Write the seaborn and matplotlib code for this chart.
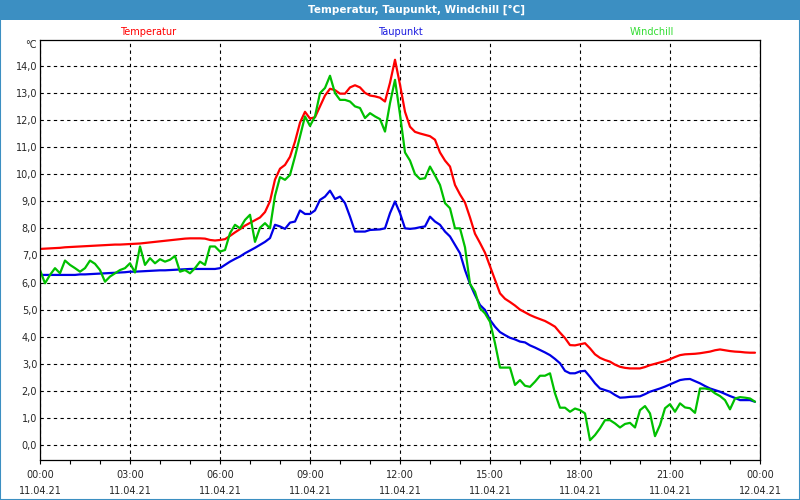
import pandas as pd
import seaborn as sns
import matplotlib.pyplot as plt
import matplotlib.dates as mdates
from matplotlib.patches import Rectangle

# 10-minute readings, 11.04.21 00:00 .. 23:50
times = pd.date_range("2021-04-11 00:00", periods=144, freq="10min")

temperatur = [
    7.24, 7.25, 7.26, 7.27, 7.28, 7.30, 7.31, 7.32, 7.33, 7.34, 7.35, 7.36,
    7.37, 7.38, 7.39, 7.40, 7.40, 7.41, 7.42, 7.43, 7.44, 7.46, 7.48, 7.50,
    7.52, 7.54, 7.56, 7.58, 7.60, 7.62, 7.63, 7.63, 7.63, 7.62, 7.57, 7.55,
    7.57, 7.60, 7.72, 7.85, 7.97, 8.10, 8.20, 8.30, 8.40, 8.60, 9.00, 9.80,
    10.2, 10.34, 10.64, 11.2, 11.9, 12.3, 12.05, 12.1, 12.5, 12.9, 13.15, 13.1,
    12.97, 12.97, 13.2, 13.28, 13.2, 13.0, 12.9, 12.87, 12.82, 12.68, 13.37, 14.22,
    13.3, 12.3, 11.75, 11.56, 11.5, 11.45, 11.4, 11.27, 10.8, 10.5, 10.28, 9.6,
    9.25, 8.95, 8.4, 7.8, 7.46, 7.1, 6.6, 6.1, 5.6, 5.4, 5.28, 5.15,
    5.0, 4.9, 4.8, 4.72, 4.65, 4.58, 4.48, 4.37, 4.15, 3.95, 3.69, 3.68,
    3.72, 3.76, 3.57, 3.35, 3.22, 3.14, 3.08, 2.97, 2.89, 2.85, 2.83, 2.83,
    2.83, 2.88, 2.95, 3.0, 3.05, 3.1, 3.17, 3.25, 3.32, 3.35, 3.36, 3.37,
    3.39, 3.42, 3.45, 3.5, 3.53, 3.5, 3.47, 3.45, 3.44, 3.42, 3.41, 3.41,
]

taupunkt = [
    6.28, 6.28, 6.28, 6.28, 6.28, 6.28, 6.28, 6.28, 6.30, 6.30, 6.31, 6.32,
    6.33, 6.34, 6.35, 6.36, 6.37, 6.38, 6.40, 6.40, 6.41, 6.42, 6.43, 6.44,
    6.45, 6.45, 6.46, 6.47, 6.48, 6.49, 6.50, 6.50, 6.50, 6.50, 6.50, 6.50,
    6.53, 6.65, 6.77, 6.87, 6.96, 7.08, 7.18, 7.28, 7.39, 7.50, 7.64, 8.13,
    8.07, 7.98, 8.21, 8.25, 8.66, 8.53, 8.53, 8.66, 9.05, 9.17, 9.39, 9.08,
    9.17, 8.93, 8.43, 7.88, 7.88, 7.88, 7.94, 7.95, 7.96, 8.0, 8.56, 8.99,
    8.56, 8.0, 7.98, 8.0, 8.04, 8.07, 8.43, 8.25, 8.13, 7.88, 7.7, 7.39,
    7.08, 6.46, 5.95, 5.54, 5.17, 4.99, 4.62, 4.37, 4.17, 4.06, 3.96, 3.9,
    3.82, 3.79, 3.68, 3.6, 3.51, 3.42, 3.32, 3.18, 3.02, 2.74, 2.65, 2.65,
    2.72, 2.74, 2.52, 2.28, 2.09, 2.03, 1.97, 1.85, 1.75, 1.76, 1.78, 1.79,
    1.8, 1.88, 1.97, 2.03, 2.09, 2.16, 2.24, 2.32, 2.4, 2.43, 2.44, 2.36,
    2.28, 2.18, 2.09, 2.03, 1.97, 1.89, 1.81, 1.74, 1.66, 1.66, 1.66, 1.6,
]

windchill = [
    6.46, 5.97, 6.28, 6.53, 6.34, 6.81, 6.65, 6.53, 6.4, 6.53, 6.81, 6.69,
    6.46, 6.03, 6.22, 6.34, 6.46, 6.53, 6.71, 6.37, 7.33, 6.65, 6.9, 6.71,
    6.86, 6.77, 6.84, 6.98, 6.4, 6.46, 6.34, 6.53, 6.77, 6.65, 7.33, 7.33,
    7.14, 7.2, 7.82, 8.13, 8.0, 8.31, 8.5, 7.5, 8.02, 8.19, 8.0, 9.2,
    9.89, 9.79, 9.97, 10.65, 11.39, 12.13, 11.78, 12.13, 12.99, 13.18, 13.63, 12.99,
    12.74, 12.74, 12.68, 12.5, 12.44, 12.07, 12.25, 12.13, 12.03, 11.57, 12.62, 13.48,
    12.2, 10.8, 10.5, 10.0, 9.82, 9.85, 10.28, 9.95, 9.6, 8.93, 8.74, 8.0,
    8.0, 7.3, 5.95, 5.66, 5.05, 4.86, 4.55, 3.76, 2.86, 2.86, 2.86, 2.22,
    2.4, 2.19, 2.15, 2.34, 2.56, 2.56, 2.65, 1.91, 1.38, 1.38, 1.23, 1.35,
    1.29, 1.17, 0.18, 0.37, 0.62, 0.92, 0.92, 0.8, 0.65, 0.78, 0.82, 0.65,
    1.29, 1.44, 1.17, 0.33, 0.74, 1.36, 1.51, 1.23, 1.54, 1.39, 1.36, 1.19,
    2.09, 2.09, 2.05, 1.91, 1.81, 1.66, 1.32, 1.72, 1.77, 1.75, 1.72, 1.6,
]

series_names = ["Temperatur", "Taupunkt", "Windchill"]
line_colors = ["#ff0000", "#0000e6", "#00c000"]
label_colors = ["#ff0000", "#1a1ae0", "#33dd33"]
y_ticks = list(range(0, 15))

df = pd.concat([
    pd.DataFrame({"zeit": times, "wert": vals, "reihe": name})
    for name, vals in zip(series_names, [temperatur, taupunkt, windchill])
])

sns.set_style("white")
plt.rcParams["font.family"] = ["DejaVu Sans"]

fig = plt.figure(figsize=(8, 5), dpi=100)
fig.patch.set_facecolor("white")
ax = fig.add_axes([0.05, 0.08, 0.90, 0.84])

sns.lineplot(data=df, x="zeit", y="wert", hue="reihe", hue_order=series_names,
             palette=line_colors, linewidth=1.6, legend=False, ax=ax)

ax.set_xlim(pd.Timestamp("2021-04-11 00:00"), pd.Timestamp("2021-04-12 00:00"))
ax.set_ylim(-0.55, 14.95)
ax.set_xlabel("")
ax.set_ylabel("")

ax.set_yticks(y_ticks)
ax.set_yticklabels([f"{v:.1f}".replace(".", ",") for v in y_ticks])
ax.xaxis.set_major_locator(mdates.HourLocator(byhour=range(0, 24, 3)))
ax.xaxis.set_minor_locator(mdates.HourLocator())
ax.xaxis.set_major_formatter(mdates.DateFormatter("%H:%M\n%d.%m.%y"))

ax.tick_params(axis="y", length=0, pad=2, labelsize=7)
ax.tick_params(axis="x", which="both", direction="out", length=3, width=0.8,
               color="black", bottom=True, labelsize=7, pad=4.5)
for lab in ax.get_xticklabels():
    lab.set_linespacing(1.75)

ax.grid(True, which="major", color="black", linestyle=(0, (3, 3)), linewidth=0.8)
for sp in ax.spines.values():
    sp.set_visible(True)
    sp.set_color("black")
    sp.set_linewidth(0.9)

for name, col, xpos in zip(series_names, label_colors, [0.15, 0.5, 0.85]):
    ax.text(xpos, 1.0195, name, transform=ax.transAxes, ha="center", va="center",
            color=col, fontsize=7)

fig.text(31 / 800, 1 - 45 / 500, "°C", ha="center", va="center", fontsize=7)

# title bar and frame
fig.add_artist(Rectangle((0, 1 - 20 / 500), 1, 20 / 500, transform=fig.transFigure,
                         facecolor="#3c8fc2", edgecolor="none", zorder=0))
fig.add_artist(Rectangle((0, 0), 1, 1, transform=fig.transFigure, fill=False,
                         edgecolor="#3c8fc2", linewidth=1.5))
fig.text(417 / 800, 1 - 10 / 500, "Temperatur, Taupunkt, Windchill [°C]",
         ha="center", va="center", color="white", fontweight="bold", fontsize=7.5)

plt.savefig("out.png", dpi=100)
